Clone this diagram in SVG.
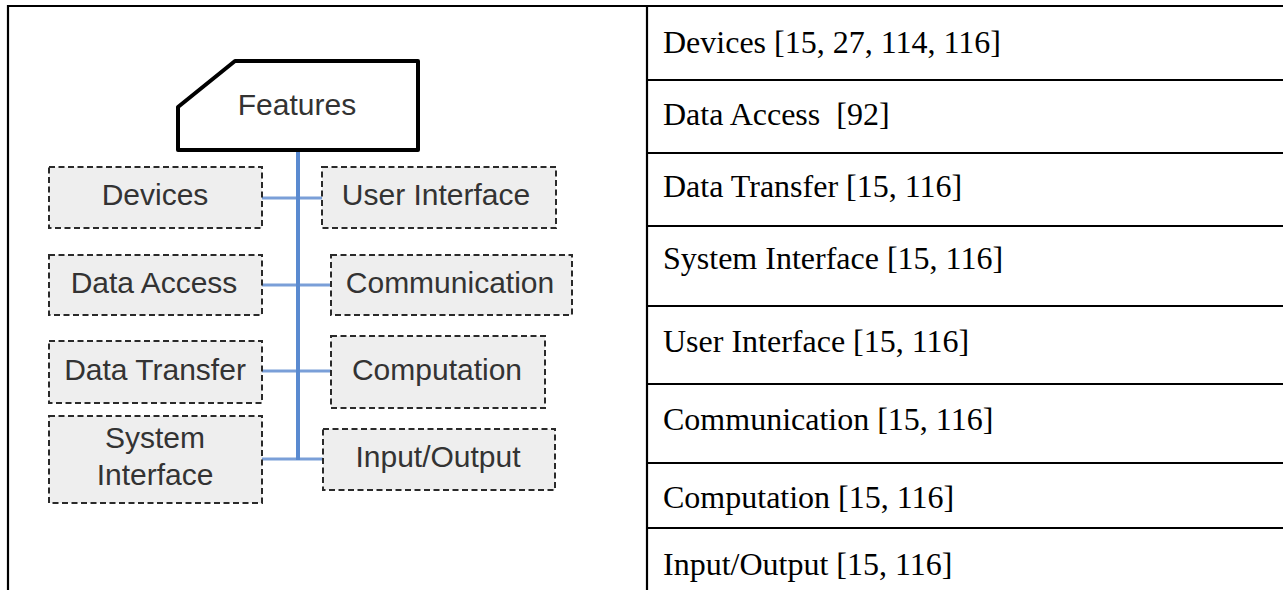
<svg xmlns="http://www.w3.org/2000/svg" width="1283" height="590" viewBox="0 0 1283 590">
<style>
.tbl{stroke:#000;stroke-width:2.2;fill:none}
.box{fill:#eeeeee;stroke:#2a2a2a;stroke-width:2;stroke-dasharray:6 3.5}
.lbl{font-family:"Liberation Sans",Arial,sans-serif;font-size:30px;fill:#333;text-anchor:middle}
.cell{font-family:"Liberation Serif","Times New Roman",serif;font-size:32px;fill:#000}
.spine{stroke:#5a8ad0;stroke-width:4;fill:none}
.branch{stroke:#7a9fd8;stroke-width:3;fill:none}
</style>
<rect width="1283" height="590" fill="#fff"/>
<g id="table">
<line class="tbl" x1="7" y1="6" x2="1283" y2="6"/>
<line class="tbl" x1="8" y1="5" x2="8" y2="590"/>
<line class="tbl" x1="647" y1="6" x2="647" y2="590"/>
<line class="tbl" x1="647" y1="80" x2="1283" y2="80"/>
<line class="tbl" x1="647" y1="153" x2="1283" y2="153"/>
<line class="tbl" x1="647" y1="226" x2="1283" y2="226"/>
<line class="tbl" x1="647" y1="306" x2="1283" y2="306"/>
<line class="tbl" x1="647" y1="384" x2="1283" y2="384"/>
<line class="tbl" x1="647" y1="463" x2="1283" y2="463"/>
<line class="tbl" x1="647" y1="528" x2="1283" y2="528"/>
<text class="cell" x="663" y="53">Devices [15, 27, 114, 116]</text>
<text class="cell" x="663" y="125" xml:space="preserve">Data Access  [92]</text>
<text class="cell" x="663" y="197">Data Transfer [15, 116]</text>
<text class="cell" x="663" y="269">System Interface [15, 116]</text>
<text class="cell" x="663" y="352">User Interface [15, 116]</text>
<text class="cell" x="663" y="430">Communication [15, 116]</text>
<text class="cell" x="663" y="508">Computation [15, 116]</text>
<text class="cell" x="663" y="575">Input/Output [15, 116]</text>
</g>
<g id="connectors">
<line class="branch" x1="262" y1="198" x2="322" y2="198"/>
<line class="branch" x1="262" y1="285" x2="331" y2="285"/>
<line class="branch" x1="262" y1="371" x2="331" y2="371"/>
<line class="branch" x1="262" y1="459" x2="323" y2="459"/>
<line class="spine" x1="298" y1="151" x2="298" y2="460"/>
</g>
<g id="features">
<polygon points="235,61 418,61 418,150 178,150 178,107" fill="#fff" stroke="#000" stroke-width="4" stroke-linejoin="round"/>
<text class="lbl" x="297" y="115">Features</text>
</g>
<g id="devices">
<rect class="box" x="49" y="167" width="213" height="61"/>
<text class="lbl" x="155" y="205">Devices</text>
</g>
<g id="user-interface">
<rect class="box" x="322" y="167" width="234" height="61"/>
<text class="lbl" x="436" y="205">User Interface</text>
</g>
<g id="data-access">
<rect class="box" x="49" y="255" width="213" height="60"/>
<text class="lbl" x="154" y="293">Data Access</text>
</g>
<g id="communication">
<rect class="box" x="331" y="255" width="241" height="60"/>
<text class="lbl" x="450" y="293">Communication</text>
</g>
<g id="data-transfer">
<rect class="box" x="49" y="341" width="213" height="62"/>
<text class="lbl" x="155" y="380">Data Transfer</text>
</g>
<g id="computation">
<rect class="box" x="331" y="336" width="214" height="72"/>
<text class="lbl" x="437" y="380">Computation</text>
</g>
<g id="system-interface">
<rect class="box" x="49" y="416" width="213" height="87"/>
<text class="lbl" x="155" y="448">System</text>
<text class="lbl" x="155" y="485">Interface</text>
</g>
<g id="input-output">
<rect class="box" x="323" y="429" width="232" height="61"/>
<text class="lbl" x="438" y="467">Input/Output</text>
</g>
</svg>
